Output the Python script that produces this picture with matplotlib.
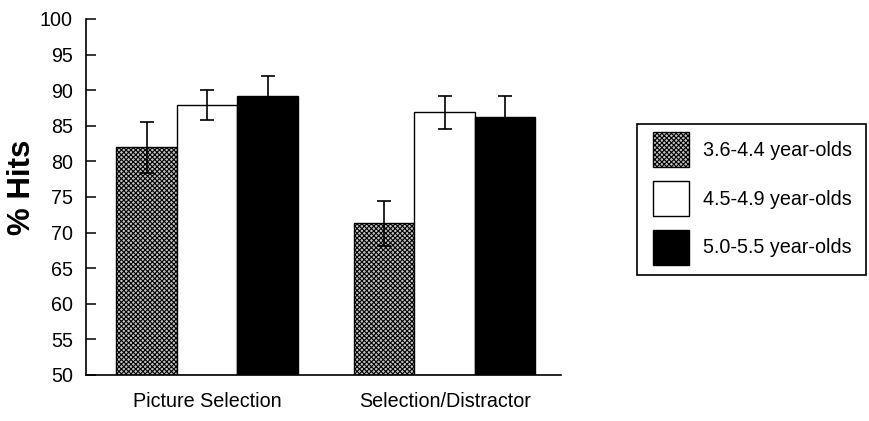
import matplotlib
matplotlib.use("Agg")
import matplotlib.pyplot as plt
from matplotlib.patches import Rectangle
import numpy as np

# data
conditions = ["Picture Selection", "Selection/Distractor"]
age_groups = ["3.6-4.4 year-olds", "4.5-4.9 year-olds", "5.0-5.5 year-olds"]
hits = [
    [82.0, 71.3],   # 3.6-4.4
    [87.9, 86.9],   # 4.5-4.9
    [89.2, 86.2],   # 5.0-5.5
]
errors = [
    [3.6, 3.2],
    [2.1, 2.3],
    [2.8, 3.0],
]
y_ticks = list(range(50, 101, 5))

plt.rcParams["font.family"] = ["Liberation Sans", "DejaVu Sans"]
plt.rcParams["hatch.color"] = "#4a4a4a"
plt.rcParams["hatch.linewidth"] = 0.8

W, H = 869, 421
fig = plt.figure(figsize=(W / 100, H / 100), dpi=100, facecolor="white")
ax = fig.add_axes([86 / W, 1 - 375 / H, (561 - 86) / W, (375 - 19) / H])

width = 0.255
x = np.arange(len(conditions))
styles = [
    dict(facecolor="#c4c4c4", hatch="xxxxxxx"),
    dict(facecolor="white"),
    dict(facecolor="black"),
]
handles = []
for i, (vals, errs, st) in enumerate(zip(hits, errors, styles)):
    pos = x + (i - 1) * width
    b = ax.bar(pos, np.array(vals) - 50, width, bottom=50, edgecolor="black",
               linewidth=1.0, label=age_groups[i], zorder=2, **st)
    handles.append(b)
    ax.errorbar(pos, vals, yerr=errs, fmt="none", ecolor="black",
                elinewidth=1.2, capsize=4.7, capthick=1.2, zorder=3)

ax.set_xlim(-0.51, 1.49)
ax.set_ylim(50, 100)
ax.set_yticks(y_ticks)
ax.set_xticks(x)
ax.set_xticklabels(conditions, fontsize=14.2)
ax.tick_params(axis="x", length=0, pad=12)
ax.tick_params(axis="y", direction="in", length=7.5, width=1.1, labelsize=14.2, pad=9.5)
ax.spines["top"].set_visible(False)
ax.spines["right"].set_visible(False)
for s in ("left", "bottom"):
    ax.spines[s].set_linewidth(1.2)

fig.text(22 / W, 1 - 187 / H, "% Hits", fontsize=22.5, fontweight="bold",
         rotation=90, ha="center", va="center")

# legend entries without frame, frame drawn as a separate box
fig.legend(handles=handles, labels=age_groups, loc="upper left",
           bbox_to_anchor=(653 / W, 1 - 132 / H), fontsize=14.2,
           frameon=False, handlelength=1.82, handleheight=2.35,
           labelspacing=0.71, handletextpad=0.7, borderpad=0, borderaxespad=0)
fig.add_artist(Rectangle((637 / W, 1 - 275 / H), (866 - 637) / W, (275 - 124) / H,
                         transform=fig.transFigure, fill=False,
                         edgecolor="black", linewidth=1.2))

fig.savefig("out.png", dpi=100, facecolor="white")
